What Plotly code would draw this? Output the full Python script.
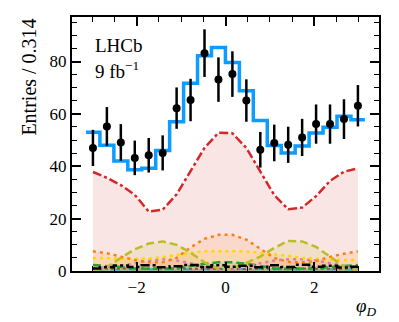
import numpy as np
import plotly.graph_objects as go

# phi_D binning: 20 bins over [-pi, pi]
bin_width = 0.314
bin_centers = [-np.pi + bin_width * (i + 0.5) for i in range(20)]

# data (entries per bin) and errors
data_counts = [47.0, 55.2, 49.1, 43.2, 44.2, 45.1, 62.2, 65.3, 83.2, 73.1,
               75.2, 65.1, 46.3, 48.9, 48.2, 51.0, 56.1, 56.1, 58.0, 63.1]
data_errors = [6.9, 7.4, 7.0, 6.6, 6.6, 6.7, 7.9, 8.1, 9.1, 8.5,
               8.7, 8.1, 6.8, 7.0, 6.9, 7.1, 7.5, 7.5, 7.6, 7.9]

# total fit (step histogram)
fit_total = [53.0, 48.0, 42.0, 38.7, 39.2, 46.0, 57.0, 71.7, 82.2, 85.4,
             79.6, 68.8, 57.5, 47.9, 45.1, 47.7, 52.7, 54.9, 59.1, 57.8]

# fit components
comp_signal = [37.8, 35.6, 32.8, 29.1, 22.7, 23.4, 29.3, 38.2, 47.0, 52.8,
               52.6, 47.0, 38.0, 29.0, 23.6, 24.2, 28.6, 34.4, 37.9, 39.2]
comp_orange = [7.5, 6.8, 5.5, 4.2, 3.3, 3.3, 5.0, 9.0, 12.3, 13.8,
               13.8, 12.0, 8.5, 5.0, 3.5, 3.3, 3.8, 5.4, 6.6, 7.5]
comp_yellow = [5.0, 5.0, 4.8, 4.6, 4.8, 5.3, 6.2, 7.0, 7.5, 7.6,
               7.6, 7.5, 7.0, 6.4, 5.8, 5.0, 4.6, 4.4, 4.2, 4.2]
comp_olive = [0.0, 1.5, 5.0, 8.3, 10.5, 11.3, 10.0, 7.0, 3.3, 0.8,
              0.8, 3.0, 5.5, 8.8, 11.5, 11.3, 9.2, 5.5, 1.7, 0.0]
comp_pink = [1.0, 1.5, 2.0, 3.0, 4.0, 4.5, 4.0, 3.0, 1.5, 0.5,
             0.5, 1.5, 3.0, 4.0, 4.5, 4.5, 4.0, 3.0, 2.0, 1.0]
comp_green = [2.3, 2.0, 1.5, 1.0, 0.8, 0.8, 1.0, 1.8, 2.8, 3.3,
              3.3, 2.8, 1.8, 1.0, 0.8, 0.8, 1.0, 1.5, 2.0, 2.3]
comp_black = [1.0, 1.4, 2.1, 1.5, 2.2, 1.4, 1.8, 2.3, 1.5, 2.2,
              1.6, 2.0, 1.4, 2.2, 1.5, 2.4, 1.6, 2.0, 1.3, 1.6]
comp_teal = [0.6, 0.5, 0.6, 0.7, 0.6, 0.5, 0.6, 0.7, 0.8, 0.8,
             0.8, 0.8, 0.7, 0.6, 0.5, 0.6, 0.7, 0.6, 0.5, 0.6]
comp_brown = [1.0, 0.9, 0.8, 0.9, 1.0, 1.1, 1.0, 0.9, 0.8, 0.8,
              0.8, 0.8, 0.9, 1.0, 1.1, 1.0, 0.9, 0.8, 0.9, 1.0]

FONT = "Liberation Serif"

bin_edges = [-np.pi + bin_width * i for i in range(21)]


def step_xy(values):
    return bin_edges, list(values) + [values[-1]]


fig = go.Figure()

# filled components (drawn first, lines on top)
components = [
    (comp_signal, "#d62728", "dashdot", 2.5, "rgba(214,39,40,0.12)"),
    (comp_olive, "#bcbd22", "8px,4px", 2.5, "rgba(188,189,34,0.13)"),
    (comp_orange, "#ff7f0e", "3px,4px", 2.5, "rgba(255,127,14,0.12)"),
    (comp_yellow, "#ffd700", "3px,4px", 2.5, "rgba(255,215,0,0.12)"),
    (comp_pink, "#e377c2", "3px,4px", 2.5, "rgba(227,119,194,0.12)"),
    (comp_green, "#2ca02c", "8px,4px", 2.5, "rgba(44,160,44,0.15)"),
    (comp_brown, "#8c564b", "dot", 2, "rgba(140,86,75,0.15)"),
    (comp_teal, "#17becf", "dash", 2, "rgba(23,190,207,0.2)"),
]

for vals, color, dash, width, fillc in components:
    fig.add_trace(go.Scatter(x=bin_centers, y=vals, mode="lines", fill="tozeroy",
                             fillcolor=fillc, line=dict(color="rgba(0,0,0,0)", width=0),
                             hoverinfo="skip", showlegend=False))
for vals, color, dash, width, fillc in components[::-1]:
    fig.add_trace(go.Scatter(x=bin_centers, y=vals, mode="lines",
                             line=dict(color=color, dash=dash, width=width),
                             showlegend=False))

# black dash-dot step component (steps between bin centres)
fig.add_trace(go.Scatter(x=bin_centers, y=comp_black, mode="lines", line_shape="hvh",
                         line=dict(color="black", dash="dashdot", width=2.5),
                         showlegend=False))

# total fit
sx, sy = step_xy(fit_total)
fig.add_trace(go.Scatter(x=sx, y=sy, mode="lines", line_shape="hv",
                         line=dict(color="#0d9cff", width=3.5), showlegend=False))

# data
fig.add_trace(go.Scatter(x=bin_centers, y=data_counts, mode="markers",
                         marker=dict(color="black", size=8),
                         error_y=dict(type="data", array=data_errors, color="black",
                                      thickness=2.5, width=0),
                         showlegend=False))

axis_common = dict(showline=True, linecolor="black", linewidth=2, mirror="allticks",
                   ticks="inside", ticklen=9, tickwidth=1.5, tickcolor="black",
                   showgrid=False, zeroline=False,
                   tickfont=dict(family=FONT, size=17, color="black"))

fig.update_xaxes(range=[-3.456, 3.456], tickvals=[-2, 0, 2],
                 minor=dict(ticks="inside", ticklen=5, dtick=0.5, tick0=0,
                            tickcolor="black", tickwidth=1.2, showgrid=False),
                 **axis_common)
fig.update_yaxes(range=[0, 97], tickvals=[0, 20, 40, 60, 80],
                 minor=dict(ticks="inside", ticklen=5, dtick=5, tick0=0,
                            tickcolor="black", tickwidth=1.2, showgrid=False),
                 **axis_common)

fig.add_annotation(text="LHCb", xref="paper", yref="paper", x=0.07, y=0.886,
                   xanchor="left", yanchor="middle", showarrow=False,
                   font=dict(family=FONT, size=19, color="black"))
fig.add_annotation(text="9 fb<sup>−1</sup>", xref="paper", yref="paper", x=0.07, y=0.79,
                   xanchor="left", yanchor="middle", showarrow=False,
                   font=dict(family=FONT, size=19, color="black"))
fig.add_annotation(text="Entries / 0.314", xref="paper", yref="paper", x=-0.143, y=1.0,
                   xanchor="center", yanchor="top", textangle=-90, showarrow=False,
                   font=dict(family=FONT, size=20, color="black"))
fig.add_annotation(text="<i>φ</i><sub><i>D</i></sub>", xref="paper", yref="paper",
                   x=1.0, y=-0.14, xanchor="right", yanchor="middle", showarrow=False,
                   font=dict(family=FONT, size=19, color="black"))

# page body has an 8px margin, so the figure is shrunk by that amount
fig.update_layout(width=391, height=314, margin=dict(l=64, r=20, t=7, b=51),
                  plot_bgcolor="white", paper_bgcolor="white", showlegend=False)

fig.write_html("out.html")
